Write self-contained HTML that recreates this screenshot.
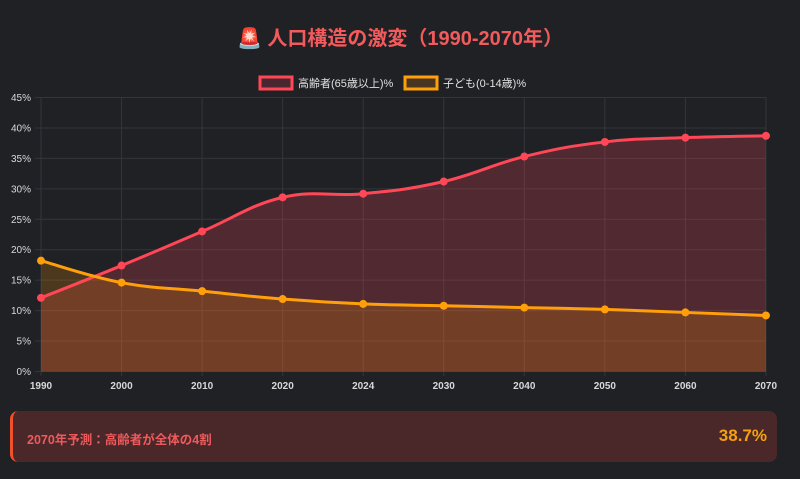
<!DOCTYPE html>
<html><head><meta charset="utf-8"><style>
body{margin:0;background:#202125;width:800px;height:479px;overflow:hidden;font-family:"Liberation Sans","Noto Sans CJK JP",sans-serif}
.title{position:absolute;left:0;width:800px;top:22px;text-align:center;font-size:20px;font-weight:bold;color:#f25a5c}
.box{position:absolute;left:10px;top:411px;width:767px;height:51px;background:#4a2729;border-radius:8px;border-left:3px solid #f0502a;box-sizing:border-box}
.box .l{position:absolute;left:14px;top:18px;font-size:12.5px;font-weight:bold;color:#ef5a5c}
.box .r{position:absolute;right:10px;top:15px;font-size:17px;font-weight:bold;color:#f5a00f}
</style></head><body>
<div class="title">🚨 人口構造の激変（1990-2070年）</div>
<svg id="c" width="800" height="400" style="position:absolute;left:0;top:0" font-family="Liberation Sans, Noto Sans CJK JP, sans-serif"></svg>
<div class="box"><div class="l">2070年予測：高齢者が全体の4割</div><div class="r">38.7%</div></div>
<script>
const s=document.getElementById('c');
const X0=41,XS=80.55,Y0=371.5,YK=6.089;
const labs=['1990','2000','2010','2020','2024','2030','2040','2050','2060','2070'];
const A=[12.1,17.4,23.0,28.6,29.2,31.2,35.3,37.7,38.4,38.7];
const B=[18.2,14.6,13.2,11.9,11.1,10.8,10.5,10.2,9.7,9.2];
let h='';
for(let i=0;i<=9;i++){const v=i*5,y=Y0-v*YK;
h+=`<line x1="35" x2="766" y1="${y}" y2="${y}" stroke="#34353a" stroke-width="1"/>`;
h+=`<text x="31" y="${y+3.5}" font-size="10" fill="#d8d8d8" text-anchor="end">${v}%</text>`;}
for(let i=0;i<10;i++){const x=X0+i*XS;
h+=`<line x1="${x}" x2="${x}" y1="97" y2="376" stroke="#34353a"/>`;
h+=`<text x="${x}" y="389" font-size="10" font-weight="bold" fill="#d8d8d8" text-anchor="middle">${labs[i]}</text>`;}
function path(d){const p=d.map((v,i)=>[X0+i*XS,Y0-v*YK]);let r=`M${p[0][0]},${p[0][1]}`;const t=0.4;
for(let i=0;i<p.length-1;i++){const a=p[Math.max(i-1,0)],b=p[i],c=p[i+1],e=p[Math.min(i+2,p.length-1)];
const c1=[b[0]+(c[0]-a[0])*t/2,b[1]+(c[1]-a[1])*t/2],c2=[c[0]-(e[0]-b[0])*t/2,c[1]-(e[1]-b[1])*t/2];
r+=` C${c1[0]},${c1[1]} ${c2[0]},${c2[1]} ${c[0]},${c[1]}`;}return [r,p];}
const [pa,qa]=path(A),[pb,qb]=path(B);
h+=`<path d="${pa} L766,371.5 L41,371.5Z" fill="rgba(255,72,90,0.22)"/>`;
h+=`<path d="${pb} L766,371.5 L41,371.5Z" fill="rgba(255,152,0,0.2)"/>`;
h+=`<path d="${pa}" fill="none" stroke="#ff4757" stroke-width="3"/>`;
h+=`<path d="${pb}" fill="none" stroke="#ff9f0a" stroke-width="3"/>`;
qa.forEach(p=>h+=`<circle cx="${p[0]}" cy="${p[1]}" r="4" fill="#ff4757"/>`);
qb.forEach(p=>h+=`<circle cx="${p[0]}" cy="${p[1]}" r="4" fill="#ff9f0a"/>`);
h+=`<rect x="260" y="77" width="32" height="12" fill="#4a2730" stroke="#ff4757" stroke-width="3"/>`;
h+=`<text x="298" y="87" font-size="11" fill="#e0e0e0">高齢者(65歳以上)%</text>`;
h+=`<rect x="405" y="77" width="32" height="12" fill="#4a3520" stroke="#ff9f0a" stroke-width="3"/>`;
h+=`<text x="443" y="87" font-size="11" fill="#e0e0e0">子ども(0-14歳)%</text>`;
s.innerHTML=h;
</script>
</body></html>
